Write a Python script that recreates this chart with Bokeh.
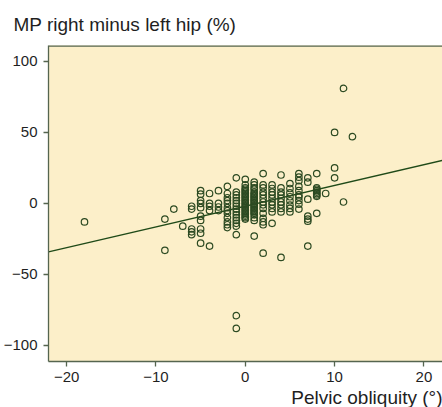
from bokeh.plotting import figure
from bokeh.models import Range1d, FixedTicker, Title, Span
from bokeh.embed import file_html
from bokeh.resources import INLINE

title_text = "MP right minus left hip (%)"
x_label_text = "Pelvic obliquity (°)"

x_ticks = [-20, -10, 0, 10, 20]
x_tick_labels = ["−20", "−10", "0", "10", "20"]
y_ticks = [-100, -50, 0, 50, 100]
y_tick_labels = ["−100", "−50", "0", "50", "100"]

# pelvic obliquity (degrees) levels and the MP differences (%) read at each level
obliquity_levels = [-18, -9, -8, -7, -6, -5, -4, -3, -2, -1, 0, 1, 2, 3, 4, 5, 6, 7, 8, 9, 10, 11, 12]
mp_at_m18 = [-13]
mp_at_m9 = [-11, -33]
mp_at_m8 = [-4]
mp_at_m7 = [-16]
mp_at_m6 = [-2, -4, -18, -20, -22]
mp_at_m5 = [9, 6.5, 2, 0, -3, -9, -12, -18, -21, -28]
mp_at_m4 = [7, 0, -2, -5, -30]
mp_at_m3 = [9, 0, -2.5, -5]
mp_at_m2 = [12, 7, 4, 2, 0, -3, -5, -7, -10, -13, -15, -17]
mp_at_m1 = [18, 8, 6, 4, 2, 0, -2, -4, -6, -8, -10, -12, -14, -16, -22, -79, -88]
mp_at_0 = [17, 13, 11, 10, 9, 8, 7, 6, 5, 4, 3, 2, 1, 0, -1, -2, -3, -4, -5, -6, -7, -8, -9, -10, -11]
mp_at_1 = [15, 13, 11, 10, 8, 7, 6, 5, 4, 3, 2, 1, 0, -1, -2, -3, -4, -5, -6, -7, -8, -10, -12, -23]
mp_at_2 = [21, 13, 11, 8, 6, 3.5, 1, -1, -3.5, -7, -10.5, -13, -15, -35]
mp_at_3 = [13, 10.5, 8, 6, 3.5, 1, -1, -3.5, -6, -14]
mp_at_4 = [20, 11, 8, 6, 3.5, 1, -1, -3.5, -6, -38]
mp_at_5 = [14, 10.5, 7.5, 4.7, 1.9, -1.2, -3.5, -6]
mp_at_6 = [21, 18.5, 16, 12, 9, 6, 4.5, 2, -0.5, -4]
mp_at_7 = [18, 15, 3, -9, -11, -12.5, -30]
mp_at_8 = [21, 11, 10, 9, 8, 7, 6, 5, -7]
mp_at_9 = [7]
mp_at_10 = [50, 25, 18]
mp_at_11 = [81, 1]
mp_at_12 = [47]

mp_columns = [mp_at_m18, mp_at_m9, mp_at_m8, mp_at_m7, mp_at_m6, mp_at_m5, mp_at_m4,
              mp_at_m3, mp_at_m2, mp_at_m1, mp_at_0, mp_at_1, mp_at_2, mp_at_3, mp_at_4,
              mp_at_5, mp_at_6, mp_at_7, mp_at_8, mp_at_9, mp_at_10, mp_at_11, mp_at_12]

# regression line
fit_slope = 1.46
fit_intercept = -1.9

xs, ys = [], []
for lv, col in zip(obliquity_levels, mp_columns):
    for v in col:
        xs.append(lv)
        ys.append(v)

X_START, X_END = -22.03, 22.08
Y_START, Y_END = -111.3, 111.2

axis_col = "#55654f"
text_col = "#1f1f1f"
pt_col = "#2c4a22"
FONT = "Liberation Sans"

p = figure(width=442, height=407, output_backend="svg", toolbar_location=None,
           x_range=Range1d(X_START, X_END), y_range=Range1d(Y_START, Y_END),
           min_border_left=45, min_border_right=0, min_border_top=45, min_border_bottom=45,
           background_fill_color="#fcefc9", border_fill_color="white",
           outline_line_color=None)
p.grid.visible = False

p.title = Title(text=title_text, align="left", offset=-35, text_font=FONT,
                text_font_size="19px", text_font_style="normal", text_color=text_col,
                standoff=22)

for ax in (p.xaxis[0], p.yaxis[0]):
    ax.axis_line_color = axis_col
    ax.axis_line_width = 1.3
    ax.major_tick_line_color = axis_col
    ax.major_tick_line_width = 1.3
    ax.major_tick_in = 0
    ax.major_tick_out = 5
    ax.minor_tick_line_color = None
    ax.major_label_text_font = FONT
    ax.major_label_text_font_size = "15px"
    ax.major_label_text_color = text_col

p.xaxis[0].ticker = FixedTicker(ticks=x_ticks)
p.xaxis[0].major_label_overrides = dict(zip(x_ticks, x_tick_labels))
p.xaxis[0].major_label_standoff = 5
p.yaxis[0].ticker = FixedTicker(ticks=y_ticks)
p.yaxis[0].major_label_overrides = dict(zip(y_ticks, y_tick_labels))
p.yaxis[0].major_label_standoff = 6

p.add_layout(Title(text=x_label_text, align="right", text_font=FONT, text_font_size="19px",
                   text_font_style="normal", text_color=text_col, standoff=0), "below")

p.add_layout(Span(location=Y_END, dimension="width", line_color=axis_col, line_width=2.6))

p.line([X_START, X_END], [fit_intercept + fit_slope * X_START, fit_intercept + fit_slope * X_END],
       line_color="#1f4a18", line_width=1.3)
p.scatter(xs, ys, marker="circle", size=6.5, fill_color=None, line_color=pt_col, line_width=1.2)

open("out.html", "w").write(file_html(p, INLINE))
